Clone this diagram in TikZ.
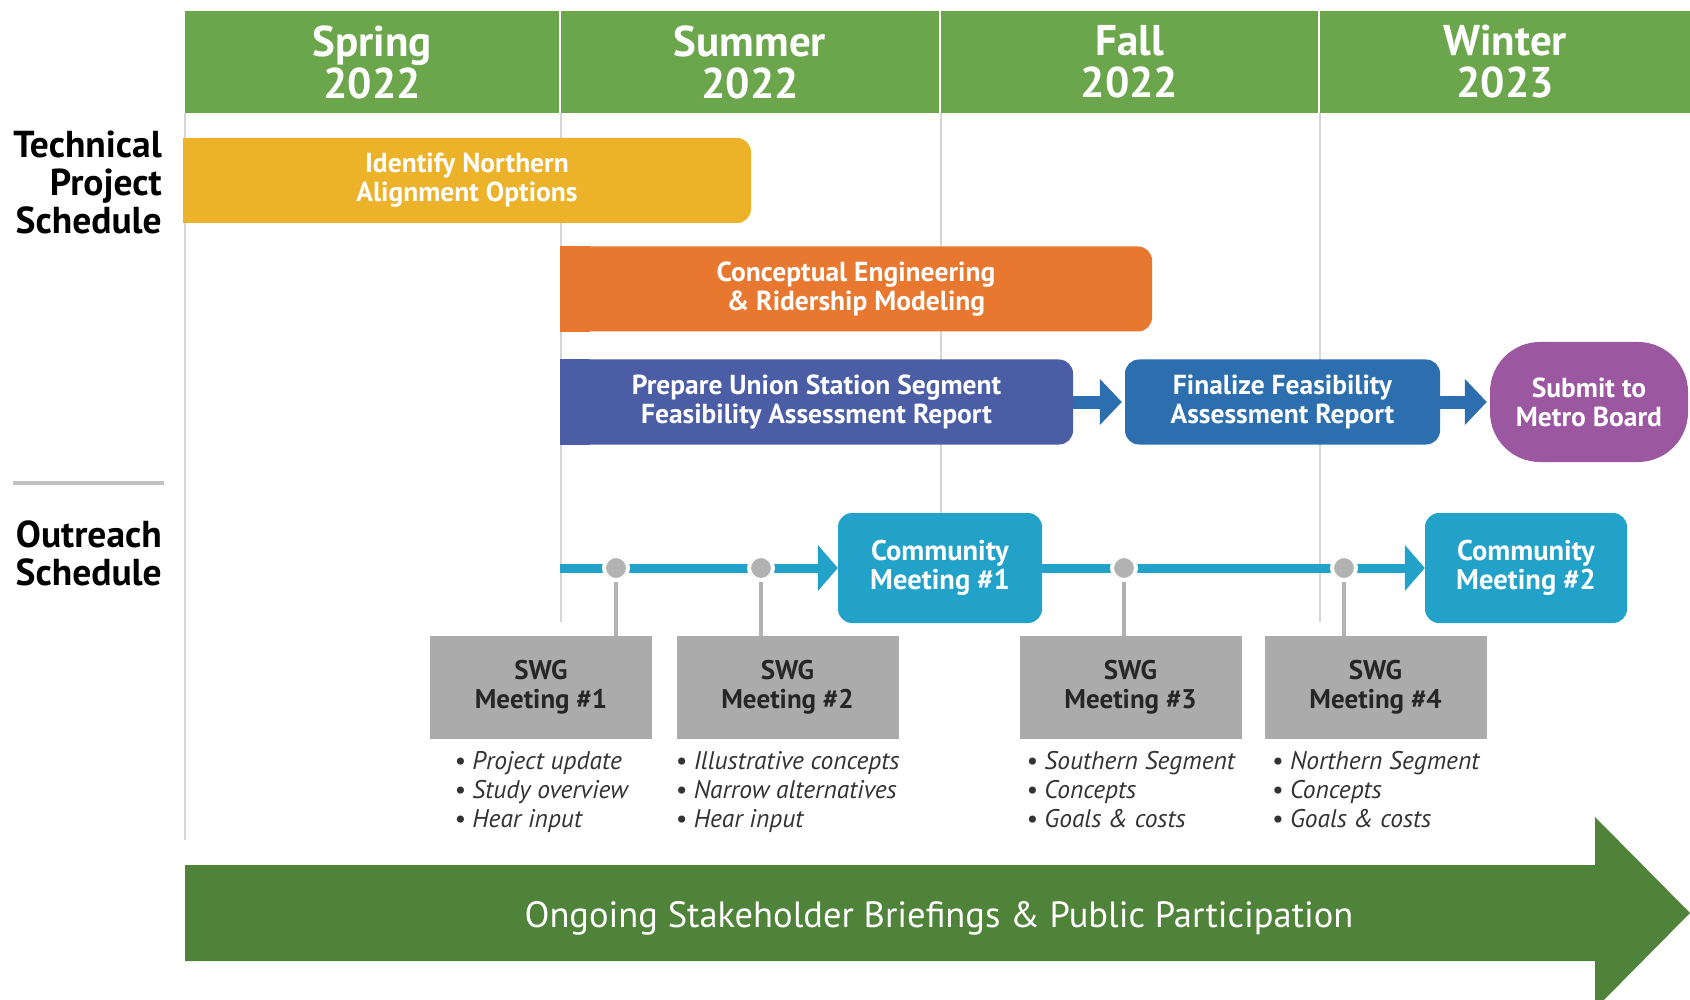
\documentclass[tikz,border=0pt]{standalone}
\usepackage{fontspec}
\setmainfont{PT Sans}
\usepackage{tikz}
\usetikzlibrary{arrows.meta,positioning}
\usepackage{xcolor}
\definecolor{hdgreen}{RGB}{108,166,76}
\definecolor{ygold}{RGB}{235,178,42}
\definecolor{orng}{RGB}{232,119,48}
\definecolor{indigo}{RGB}{75,94,165}
\definecolor{steel}{RGB}{44,110,174}
\definecolor{plum}{RGB}{155,87,160}
\definecolor{teal}{RGB}{34,161,201}
\definecolor{swggray}{RGB}{171,171,171}
\definecolor{dotgray}{RGB}{178,178,178}
\definecolor{gridgray}{RGB}{214,214,214}
\definecolor{fgreen}{RGB}{79,131,58}

\begin{document}
\begin{tikzpicture}[x=1pt,y=-1pt,>={Triangle[length=20pt,width=45pt]}]
\tikzstyle{season}=[fill=hdgreen,text=white,minimum height=102pt,inner sep=0pt,align=center,font=\bfseries\fontsize{43}{42}\selectfont]
\tikzstyle{bar}=[text=white,minimum height=85pt,inner sep=0pt,rounded corners=14pt,align=center,font=\bfseries\fontsize{27.5}{29}\selectfont]
\tikzstyle{meet}=[bar,fill=teal,minimum height=110pt,font=\bfseries\fontsize{28.5}{29}\selectfont]
\tikzstyle{swg}=[fill=swggray,text=black!85,minimum width=222pt,minimum height=103pt,inner sep=0pt,align=center,font=\bfseries\fontsize{27}{29}\selectfont]
\tikzstyle{items}=[align=left,inner sep=0pt,text=black!80,font=\itshape\fontsize{25.5}{29}\selectfont]
\tikzstyle{lab}=[anchor=east,align=right,inner sep=0pt,font=\bfseries\fontsize{37.5}{38}\selectfont]
\tikzstyle{vline}=[gridgray,line width=1.5pt]
\tikzstyle{tline}=[teal,line width=9pt,->]
\tikzstyle{chunk}=[steel,line width=13pt,-{Triangle[length=22pt,width=45pt]},shorten >=3pt]
\tikzstyle{knob}=[circle,fill=dotgray,draw=white,line width=4pt,minimum size=24pt,inner sep=0pt]
\tikzstyle{stemline}=[dotgray,line width=4pt]
\useasboundingbox(0,0)rectangle(1690,1000);
\fill[white](0,0)rectangle(1690,1000);
  \node(spring)at(372,62)[season,minimum width=374pt]{Spring\\2022};
  \node(summer)at(750,62)[season,minimum width=378pt]{Summer\\2022};
  \node(fall)at(1129.5,62)[season,minimum width=377pt]{Fall\\2022};
  \node(winter)at(1505,62)[season,minimum width=370pt]{Winter\\2023};
  \draw[vline](spring.south west)--++(0,727);
  \draw[vline](summer.south west)--++(0,509);
  \draw[vline](fall.south west)--++(0,509);
  \draw[vline](winter.south west)--++(0,509);
  \node(tech)at(162,182)[lab]{Technical\\Project\\Schedule};
  \draw[gridgray!90!black,line width=4pt](13,483)--(164,483);
  \node(outreach)at(162,553)[lab]{Outreach\\Schedule};
  \node(ident)at(467,180.5)[bar,fill=ygold,minimum width=568pt]{Identify Northern\\Alignment Options};
  \fill[ygold](ident.north west)rectangle([xshift=30pt]ident.south west);
  \node(model)at(856,289)[bar,fill=orng,minimum width=592pt]{Conceptual Engineering\\\& Ridership Modeling};
  \fill[orng](model.north west)rectangle([xshift=30pt]model.south west);
  \node(prep)at(816.5,402)[bar,fill=indigo,minimum width=513pt]{Prepare Union Station Segment\\Feasibility Assessment Report};
  \fill[indigo](prep.north west)rectangle([xshift=30pt]prep.south west);
  \node(final)at(1282.5,402)[bar,fill=steel,minimum width=315pt]{Finalize Feasibility\\Assessment Report};
  \node(submit)at(1589,402)[bar,fill=plum,minimum width=198pt,minimum height=120pt,rounded corners=50pt]{Submit to\\Metro Board};
  \draw[chunk](prep)--(final);
  \draw[chunk](final)--(submit);
  \coordinate(ostart)at(560,568);
  \node(cm1)at(940,568)[meet,minimum width=204pt]{Community\\Meeting \#1};
  \node(cm2)at(1526,568)[meet,minimum width=202pt]{Community\\Meeting \#2};
  \draw[tline](ostart)--(cm1);
  \draw[tline](cm1)--(cm2);
  \node(swg1)at(541,687.5)[swg]{SWG\\Meeting \#1};
  \node(swg2)at(787.5,687.5)[swg]{SWG\\Meeting \#2};
  \node(swg3)at(1130.5,687.5)[swg]{SWG\\Meeting \#3};
  \node(swg4)at(1375.5,687.5)[swg]{SWG\\Meeting \#4};
  \node(d1)at(616,568)[knob]{};
  \node(d2)at(761,568)[knob]{};
  \node(d3)at(1124,568)[knob]{};
  \node(d4)at(1344,568)[knob]{};
  \draw[stemline](d1)--(d1|-swg1.north);
  \draw[stemline](d2)--(d2|-swg2.north);
  \draw[stemline](d3)--(d3|-swg3.north);
  \draw[stemline](d4)--(d4|-swg4.north);
  \node(notes1)[items,below=12pt of swg1]{• Project update\\• Study overview\\• Hear input};
  \node(notes2)[items,below=12pt of swg2]{• Illustrative concepts\\• Narrow alternatives\\• Hear input};
  \node(notes3)[items,below=12pt of swg3]{• Southern Segment\\• Concepts\\• Goals \& costs};
  \node(notes4)[items,below=12pt of swg4]{• Northern Segment\\• Concepts\\• Goals \& costs};
  \fill[fgreen](185,865)--(1595,865)--(1595,817)--(1690,913)--(1595,1009)--(1595,961)--(185,961)--cycle;
  \node(ongoing)at(939,918)[text=white,font=\fontsize{36.5}{38}\selectfont]{Ongoing Stakeholder Briefings \& Public Participation};
\end{tikzpicture}
\end{document}
